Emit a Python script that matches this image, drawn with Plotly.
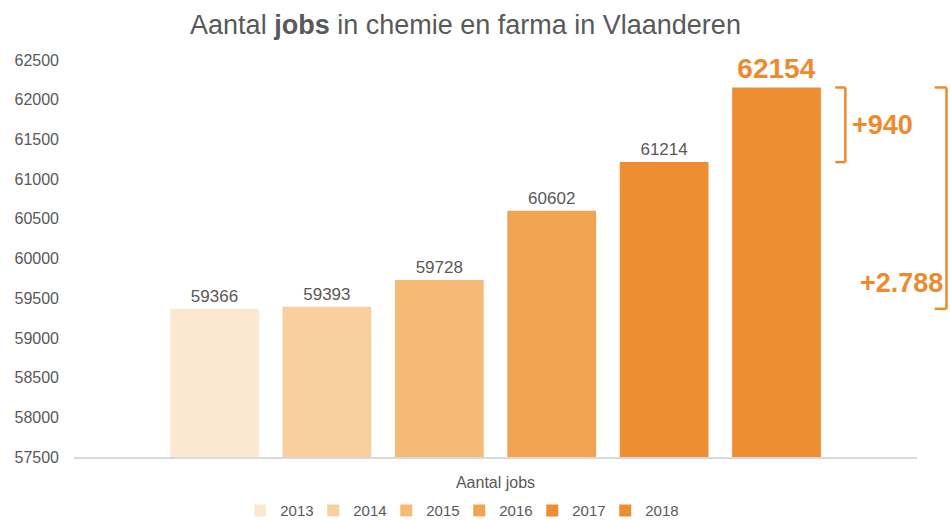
import plotly.graph_objects as go

years = ["2013", "2014", "2015", "2016", "2017", "2018"]
jobs = [59366, 59393, 59728, 60602, 61214, 62154]
colors = ["#FCE8D0", "#F9CF9E", "#F5BB76", "#F2A352", "#EE8D32", "#EE8E33"]
category = ["Aantal jobs"]
y_ticks = [57500, 58000, 58500, 59000, 59500, 60000, 60500, 61000, 61500, 62000, 62500]

GRAY = "#595959"
ORANGE = "#EE8A2E"
FONT = "Liberation Sans, Arial, sans-serif"

fig = go.Figure()
for i, (yr, v, c) in enumerate(zip(years, jobs, colors)):
    last = i == len(years) - 1
    fig.add_trace(go.Bar(
        name=yr, x=category, y=[v], marker=dict(color=c, line=dict(width=0)),
        text=[str(v)], textposition="outside", cliponaxis=False,
        textfont=dict(family=FONT, size=28 if last else 17,
                      color=ORANGE if last else GRAY,
                      weight="bold" if last else "normal"),
    ))

# brackets
d1_top, d1_bot = jobs[-1], jobs[-2]
d2_top, d2_bot = jobs[-1], jobs[0]
line = dict(color=ORANGE, width=2.5)
shapes = [
    dict(type="line", xref="paper", yref="y", x0=0.915, x1=0.915, y0=d1_bot, y1=d1_top, line=line),
    dict(type="line", xref="paper", yref="y", x0=0.903, x1=0.915, y0=d1_top, y1=d1_top, line=line),
    dict(type="line", xref="paper", yref="y", x0=0.903, x1=0.915, y0=d1_bot, y1=d1_bot, line=line),
    dict(type="line", xref="paper", yref="y", x0=1.035, x1=1.035, y0=d2_bot, y1=d2_top, line=line),
    dict(type="line", xref="paper", yref="y", x0=1.021, x1=1.035, y0=d2_top, y1=d2_top, line=line),
    dict(type="line", xref="paper", yref="y", x0=1.021, x1=1.035, y0=d2_bot, y1=d2_bot, line=line),
]
annotations = [
    dict(text="+" + str(d1_top - d1_bot), xref="paper", yref="y", x=0.921, y=(d1_top + d1_bot) / 2,
         xanchor="left", yanchor="middle", showarrow=False,
         font=dict(family=FONT, size=27, color=ORANGE, weight="bold")),
    dict(text="+" + f"{d2_top - d2_bot:,}".replace(",", "."), xref="paper", yref="paper", x=1.033, y=0.438,
         xanchor="right", yanchor="middle", showarrow=False,
         font=dict(family=FONT, size=27, color=ORANGE, weight="bold")),
]

fig.update_layout(
    width=950, height=520,
    margin=dict(l=74, r=33, t=60, b=63, autoexpand=False),
    paper_bgcolor="white", plot_bgcolor="white",
    font=dict(family=FONT, color=GRAY, size=16),
    title=dict(text="Aantal <b>jobs</b> in chemie en farma in Vlaanderen",
               x=0.49, xanchor="center", y=0.952, yanchor="middle",
               font=dict(family=FONT, size=27, color=GRAY)),
    barmode="group", bargap=0.2, bargroupgap=0.21,
    xaxis=dict(showline=True, linecolor="#D9D9D9", linewidth=1.5, showgrid=False,
               ticks="", tickfont=dict(size=16, color=GRAY), automargin=False,
               ticklabelstandoff=10),
    yaxis=dict(range=[57500, 62500], tickvals=y_ticks, tickformat="d", showgrid=False,
               zeroline=False, showline=False, ticks="", tickfont=dict(size=16, color=GRAY),
               ticklabelstandoff=14, automargin=False),
    legend=dict(orientation="h", x=0.457, xanchor="center", yref="container", y=0.018,
                yanchor="middle", font=dict(size=15, color=GRAY),
                entrywidth=28, entrywidthmode="pixels", itemwidth=30),
    shapes=shapes, annotations=annotations,
    showlegend=True,
)

fig.write_html("out.html")
